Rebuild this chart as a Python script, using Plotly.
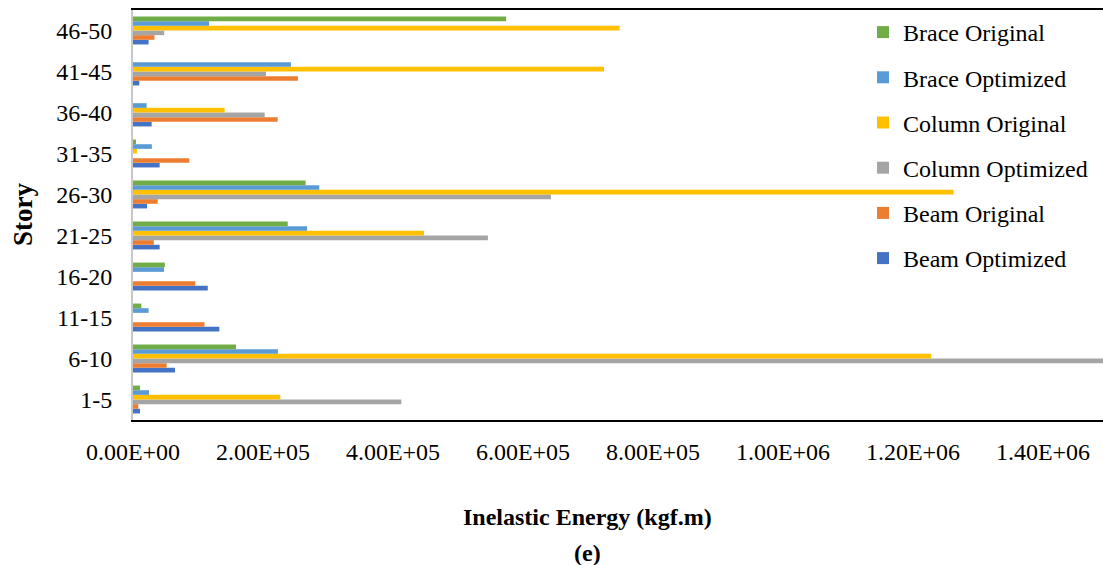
import plotly.graph_objects as go

# Story groups, bottom to top
stories = ["1-5", "6-10", "11-15", "16-20", "21-25", "26-30", "31-35", "36-40", "41-45", "46-50"]

# Inelastic energy (kgf.m) per story group
brace_original = [10800, 158500, 12800, 49000, 238000, 265600, 4600, 0, 0, 574000]
brace_optimized = [24600, 223000, 24000, 47700, 267700, 286600, 29000, 21000, 243000, 117000]
column_original = [226600, 1228000, 0, 0, 447700, 1262600, 6000, 141000, 724600, 748700]
column_optimized = [412800, 1520000, 0, 0, 546000, 643000, 0, 202600, 204600, 48000]
beam_original = [8200, 51800, 110000, 95800, 32000, 38000, 86600, 222600, 253800, 33000]
beam_optimized = [10800, 64600, 132800, 115000, 41000, 21500, 41000, 28700, 9700, 24000]

tick_values = [0, 2e5, 4e5, 6e5, 8e5, 1e6, 1.2e6, 1.4e6]
tick_labels = ["0.00E+00", "2.00E+05", "4.00E+05", "6.00E+05",
               "8.00E+05", "1.00E+06", "1.20E+06", "1.40E+06"]

FONT = "Liberation Serif, Times New Roman, serif"

# Traces listed bottom-to-top within each group; legend rank puts Brace Original first
series = [
    ("Beam Optimized", beam_optimized, "#4472C4", 6),
    ("Beam Original", beam_original, "#ED7D31", 5),
    ("Column Optimized", column_optimized, "#A5A5A5", 4),
    ("Column Original", column_original, "#FFC000", 3),
    ("Brace Optimized", brace_optimized, "#5B9BD5", 2),
    ("Brace Original", brace_original, "#70AD47", 1),
]

fig = go.Figure()
for name, vals, color, rank in series:
    fig.add_trace(go.Bar(
        y=stories, x=vals, name=name, orientation="h",
        marker=dict(color=color, line=dict(width=0)),
        legendgroup=name, legendrank=rank,
    ))

fig.update_layout(
    width=1103, height=565,
    margin=dict(l=133, r=0, t=10, b=145),
    paper_bgcolor="white", plot_bgcolor="white",
    barmode="group", bargap=0.32, bargroupgap=0,
    font=dict(family=FONT, size=24, color="#000000"),
    showlegend=True,
    legend=dict(
        traceorder="grouped", tracegroupgap=11,
        x=(863 - 133) / 970, xanchor="left",
        y=(420 - 10) / 410, yanchor="top",
        bgcolor="rgba(0,0,0,0)", borderwidth=0,
        font=dict(family=FONT, size=24, color="#000000"),
    ),
    xaxis=dict(
        range=[0, 970 * 2e5 / 130],
        tickvals=tick_values, ticktext=tick_labels,
        ticks="outside", ticklen=9, tickcolor="rgba(0,0,0,0)",
        showgrid=False, zeroline=False,
        showline=True, linecolor="#000000", linewidth=2, mirror=True,
        tickfont=dict(family=FONT, size=24, color="#000000"),
    ),
    yaxis=dict(
        type="category",
        ticks="outside", ticklen=14, tickcolor="rgba(0,0,0,0)",
        showgrid=False, zeroline=False,
        showline=True, linecolor="#C8C8C8", linewidth=2,
        tickfont=dict(family=FONT, size=24, color="#000000"),
    ),
    annotations=[
        dict(text="<b>Story</b>", textangle=-90, xref="paper", yref="paper",
             x=(23 - 133) / 970, y=(420 - 215) / 410, xanchor="center", yanchor="middle",
             showarrow=False, font=dict(family=FONT, size=27, color="#000000")),
        dict(text="<b>Inelastic Energy (kgf.m)</b>", xref="paper", yref="paper",
             x=(587 - 133) / 970, y=(420 - 517) / 410, xanchor="center", yanchor="middle",
             showarrow=False, font=dict(family=FONT, size=24, color="#000000")),
        dict(text="<b>(e)</b>", xref="paper", yref="paper",
             x=(587 - 133) / 970, y=(420 - 553) / 410, xanchor="center", yanchor="middle",
             showarrow=False, font=dict(family=FONT, size=24, color="#000000")),
    ],
)

fig.write_html("out.html")
